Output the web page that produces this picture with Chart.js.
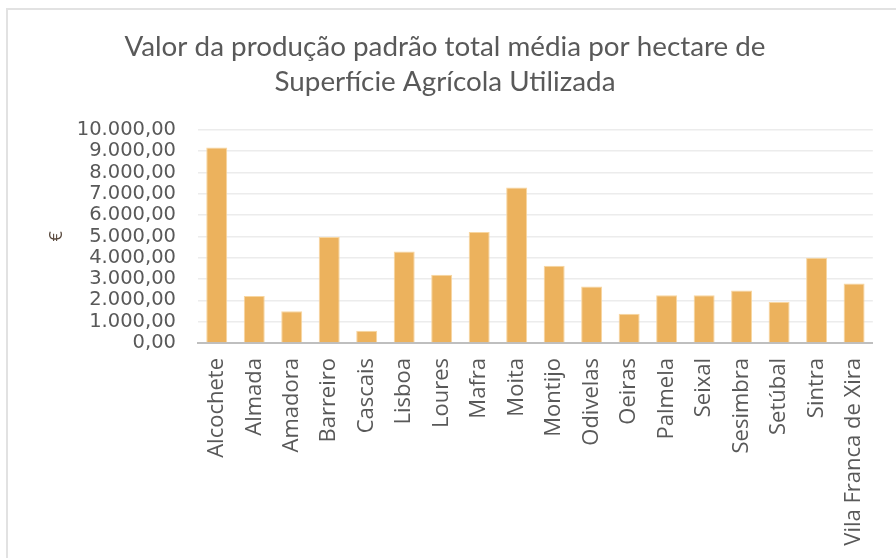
<!DOCTYPE html>
<html>
<head>
<meta charset="utf-8">
<script src="https://cdn.jsdelivr.net/npm/chart.js@4"></script>
<style>
  html, body { margin: 0; padding: 0; background: #fff; }
  #wrap { position: relative; width: 896px; height: 558px; overflow: hidden; }
  #frame { position: absolute; left: 6px; top: 8px; width: 1000px; height: 700px;
           border-left: 2px solid #e2e2e2; border-top: 2px solid #e2e2e2; }
  canvas { position: absolute; left: 0; top: 0; }
</style>
</head>
<body>
<div id="wrap">
  <div id="frame"></div>
  <canvas id="myChart" width="896" height="558"></canvas>
</div>
<script>
  // data
  const municipios = ['Alcochete', 'Almada', 'Amadora', 'Barreiro', 'Cascais', 'Lisboa', 'Loures',
    'Mafra', 'Moita', 'Montijo', 'Odivelas', 'Oeiras', 'Palmela', 'Seixal', 'Sesimbra',
    'Setúbal', 'Sintra', 'Vila Franca de Xira'];
  const valores = [9180, 2210, 1490, 4970, 580, 4290, 3200,
    5210, 7300, 3630, 2650, 1370, 2245, 2245, 2465,
    1930, 4000, 2795];
  const yMin = 0, yMax = 10000, yStep = 1000;
  const titulo = ['Valor da produção padrão total média por hectare de', 'Superfície Agrícola Utilizada'];

  function formatPt(v) {
    // 10000 -> "10.000,00"
    const parts = Math.round(v).toString().replace(/\B(?=(\d{3})+(?!\d))/g, '.');
    return parts + ',00';
  }

  var ctx = document.getElementById('myChart').getContext('2d');
  var chart = new Chart(ctx, {
    type: 'bar',
    data: {
      labels: municipios,
      datasets: [{
        label: 'Valor',
        backgroundColor: 'rgb(236, 178, 93)',
        borderColor: 'rgba(248, 214, 160, 1)',
        borderWidth: 1,
        categoryPercentage: 1,
        barPercentage: 0.56,
        data: valores
      }]
    },
    options: {
      responsive: false,
      animation: false,
      layout: { padding: { left: 12, right: 18, top: 0, bottom: 0 } },
      plugins: {
        legend: { display: false },
        tooltip: { enabled: false },
        title: {
          display: true,
          text: titulo,
          color: '#595959',
          font: { family: 'Lato', size: 27.8, weight: 'normal', lineHeight: 1.24 },
          padding: { top: 30, bottom: 31 }
        }
      },
      scales: {
        x: {
          grid: { display: false, drawTicks: false },
          border: { display: true, color: '#bfbfbf', width: 2 },
          ticks: {
            color: '#595959',
            font: { family: 'Open Sans', size: 22 },
            minRotation: 90, maxRotation: 90,
            autoSkip: false,
            padding: 15
          },
          afterFit: function (scale) { scale.height = 215; }
        },
        y: {
          min: yMin, max: yMax,
          grid: { color: '#ececec', lineWidth: 1.5, drawTicks: false },
          border: { display: false },
          ticks: {
            stepSize: yStep,
            autoSkip: false,
            color: '#595959',
            font: { family: 'DejaVu Sans', size: 19.5, lineHeight: 1 },
            padding: 22,
            callback: function (v) { return formatPt(v); }
          },
          title: {
            display: true,
            text: '€',
            color: '#5a4a3e',
            font: { family: 'Open Sans', size: 18 },
            padding: { top: 34 }
          },
          afterFit: function (scale) { scale.width = 186; }
        }
      }
    }
  });
</script>
</body>
</html>
